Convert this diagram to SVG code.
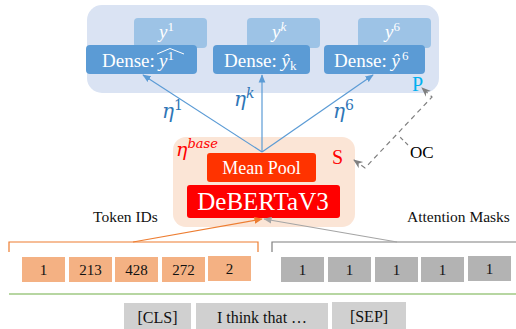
<svg xmlns="http://www.w3.org/2000/svg" width="516" height="329" viewBox="0 0 516 329">
<defs>
<marker id="ab" viewBox="0 0 10 10" refX="9" refY="5" markerWidth="7" markerHeight="7" orient="auto-start-reverse"><path d="M0,1 L10,5 L0,9 z" fill="#5B9BD5"/></marker>
<marker id="ao" viewBox="0 0 10 10" refX="9" refY="5" markerWidth="7" markerHeight="7" orient="auto"><path d="M0,1 L10,5 L0,9 z" fill="#ED7D31"/></marker>
<marker id="ag" viewBox="0 0 10 10" refX="9" refY="5" markerWidth="7" markerHeight="7" orient="auto"><path d="M0,1 L10,5 L0,9 z" fill="#A5A5A5"/></marker>
<marker id="ad" viewBox="0 0 10 10" refX="9" refY="5" markerWidth="8" markerHeight="8" orient="auto-start-reverse"><path d="M0,1 L10,5 L0,9 L3,5 z" fill="#808080"/></marker>
</defs>
<style>
.t{font-family:"Liberation Serif","Times New Roman",serif}
.w{fill:#fff}
.m{font-family:"DejaVu Serif","Liberation Serif",serif;font-style:italic}
.bl{fill:#2E75B6}
.tok{fill:#F4B183}
.msk{fill:#B3B3B3}
.txt{fill:#D0D0D0}
</style>
<g id="panelP">
<rect x="87" y="5" width="352" height="88" rx="15" fill="#DAE3F3"/>
<text class="t" x="412" y="91" font-size="20" fill="#00B0F0">P</text>
</g>
<g id="y1"><rect x="134" y="18" width="73" height="30" rx="4" fill="#9DC3E6"/><text class="t w" x="159" y="38" font-size="19" font-style="italic">y<tspan dy="-7" font-size="13" font-style="normal">1</tspan></text></g>
<g id="yk"><rect x="247" y="18" width="73" height="30" rx="4" fill="#9DC3E6"/><text class="t w" x="272" y="38" font-size="19" font-style="italic">y<tspan dy="-7" font-size="13">k</tspan></text></g>
<g id="y6"><rect x="358" y="18" width="73" height="30" rx="4" fill="#9DC3E6"/><text class="t w" x="385" y="38" font-size="19" font-style="italic">y<tspan dy="-7" font-size="13" font-style="normal">6</tspan></text></g>
<g id="dense1"><rect x="86" y="45" width="111" height="29" rx="4" fill="#5B9BD5"/><text class="t w" x="102" y="67" font-size="19">Dense: </text><text class="t w" x="159" y="67" font-size="19" font-style="italic">y<tspan dy="-7" font-size="13" font-style="normal">1</tspan></text><path d="M157,54 L170,48.5 L184,54" fill="none" stroke="#fff" stroke-width="1"/></g>
<g id="densek"><rect x="213" y="45" width="97" height="29" rx="4" fill="#5B9BD5"/><text class="t w" x="224" y="67" font-size="19">Dense: <tspan font-style="italic">ŷ</tspan><tspan dy="3" font-size="13">k</tspan></text></g>
<g id="dense6"><rect x="324" y="45" width="101" height="29" rx="4" fill="#5B9BD5"/><text class="t w" x="334" y="67" font-size="19">Dense: <tspan font-style="italic">ŷ</tspan><tspan dy="-7" font-size="13" dx="2">6</tspan></text></g>
<g id="panelS">
<rect x="173" y="137" width="182" height="90" rx="13" fill="#FBE5D6"/>
<text class="m" x="176" y="156" font-size="19" fill="#FF0000">η<tspan dy="-8" font-size="13">base</tspan></text>
<text class="t" x="332" y="164" font-size="20" fill="#FF0000">S</text>
</g>
<g id="meanpool"><rect x="207" y="153" width="109" height="29" rx="3" fill="#FF3300"/><text class="t w" x="261.5" y="174" font-size="18" text-anchor="middle">Mean Pool</text></g>
<g id="deberta"><rect x="187" y="185" width="153" height="33" rx="3" fill="#FF0000"/><text class="t w" x="263" y="210" font-size="25" text-anchor="middle">DeBERTaV3</text></g>
<g id="labels">
<text class="t" x="93" y="222" font-size="15.5" fill="#111">Token IDs</text>
<text class="t" x="407" y="222" font-size="15.5" fill="#111">Attention Masks</text>
<text class="t" x="410" y="158" font-size="17" fill="#000">OC</text>
<text class="m bl" x="162" y="118" font-size="20">η<tspan dy="-8" font-size="14" font-style="normal">1</tspan></text>
<text class="m bl" x="234" y="106" font-size="20">η<tspan dy="-8" font-size="14">k</tspan></text>
<text class="m bl" x="333" y="118" font-size="20">η<tspan dy="-8" font-size="14" font-style="normal">6</tspan></text>
</g>
<g id="tokens" class="t" font-size="15" text-anchor="middle" fill="#111">
<rect class="tok" x="22" y="257" width="43" height="25"/><text x="43.5" y="275">1</text>
<rect class="tok" x="69" y="257" width="43" height="25"/><text x="90.5" y="275">213</text>
<rect class="tok" x="115" y="257" width="43" height="25"/><text x="136.5" y="275">428</text>
<rect class="tok" x="162" y="257" width="43" height="25"/><text x="183.5" y="275">272</text>
<rect class="tok" x="208" y="256" width="43" height="25"/><text x="229.5" y="274">2</text>
</g>
<g id="masks" class="t" font-size="15" text-anchor="middle" fill="#111">
<rect class="msk" x="281" y="257" width="43" height="25"/><text x="302.5" y="275">1</text>
<rect class="msk" x="328" y="257" width="43" height="25"/><text x="349.5" y="275">1</text>
<rect class="msk" x="375" y="257" width="43" height="25"/><text x="396.5" y="275">1</text>
<rect class="msk" x="421" y="257" width="43" height="25"/><text x="442.5" y="275">1</text>
<rect class="msk" x="468" y="256" width="43" height="25"/><text x="489.5" y="274">1</text>
</g>
<g id="sentence" class="t" font-size="16" text-anchor="middle" fill="#111">
<rect class="txt" x="124" y="303" width="67" height="30"/><text x="157.5" y="323">[CLS]</text>
<rect class="txt" x="196" y="303" width="132" height="30"/><text x="262" y="323">I think that …</text>
<rect class="txt" x="332" y="302" width="74" height="30"/><text x="369" y="322">[SEP]</text>
</g>
<g id="connectors" fill="none">
<line x1="262" y1="152" x2="143" y2="75" stroke="#5B9BD5" stroke-width="1.2" marker-end="url(#ab)"/>
<line x1="262" y1="152" x2="262" y2="75" stroke="#5B9BD5" stroke-width="1.2" marker-end="url(#ab)"/>
<line x1="262" y1="152" x2="373" y2="75" stroke="#5B9BD5" stroke-width="1.2" marker-end="url(#ab)"/>
<path d="M9,252 L9,242 L258,242 L258,252" stroke="#ED7D31" stroke-width="1.2"/>
<path d="M272,252 L272,242 L516,242" stroke="#7F7F7F" stroke-width="1.2"/>
<line x1="133" y1="242" x2="262" y2="219" stroke="#ED7D31" stroke-width="1.2" marker-end="url(#ao)"/>
<line x1="397" y1="242" x2="264" y2="219" stroke="#A5A5A5" stroke-width="1.2" marker-end="url(#ag)"/>
<line x1="9" y1="294" x2="516" y2="294" stroke="#70AD47" stroke-width="1.2"/>
<path d="M354,160 L365,168 L432,97 L422,88" stroke="#808080" stroke-width="1.2" stroke-dasharray="5,4" marker-start="url(#ad)" marker-end="url(#ad)"/>
<line x1="408" y1="145" x2="400" y2="137" stroke="#808080" stroke-width="1.2" stroke-dasharray="4,3"/>
</g>
</svg>
